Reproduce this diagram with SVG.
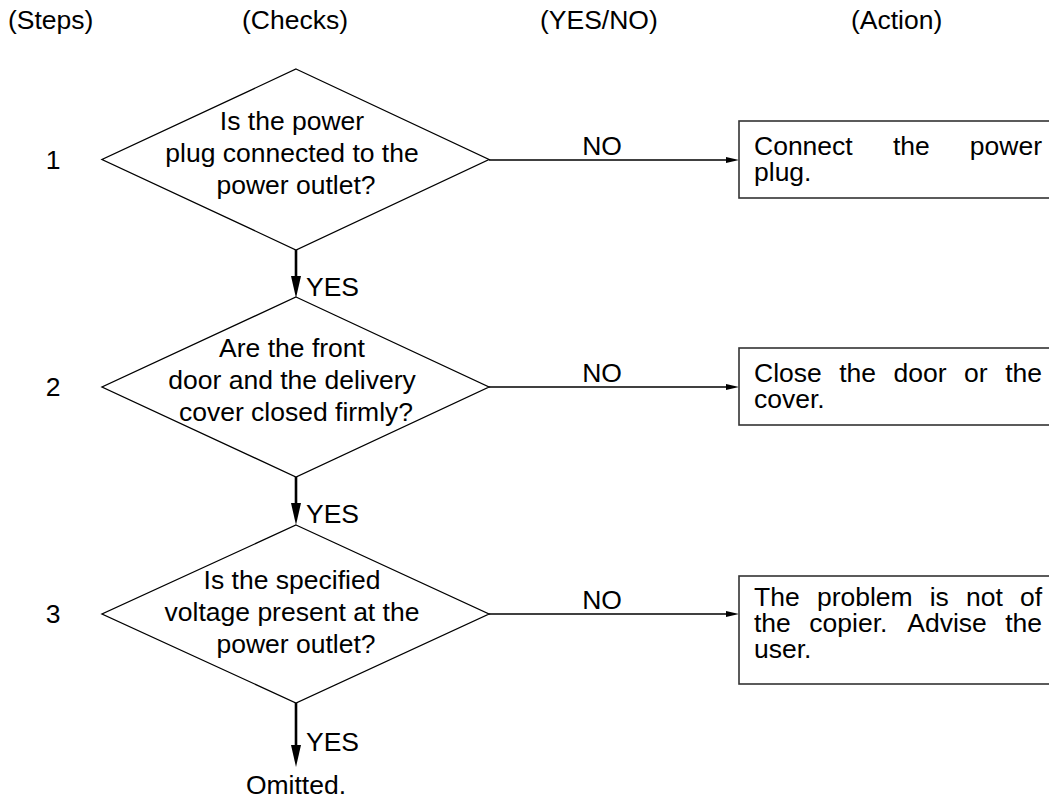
<svg xmlns="http://www.w3.org/2000/svg" width="1049" height="799" viewBox="0 0 1049 799">
<style>
text{font-family:"Liberation Sans",Arial,Helvetica,sans-serif;font-size:26.5px;fill:#000}
.c{text-anchor:middle}
.dia{fill:#fff;stroke:#000;stroke-width:1.3}
.box{fill:#fff;stroke:#333;stroke-width:1.6}
.yes{stroke:#000;stroke-width:2.6;fill:none}
.no{stroke:#000;stroke-width:1.4;fill:none}
</style>
<defs>
<marker id="ah" markerUnits="userSpaceOnUse" markerWidth="22" markerHeight="10" viewBox="0 0 22 10" refX="12" refY="5" orient="auto"><path d="M0,0 L22,5 L0,10 Z" fill="#000"/></marker>
<marker id="as" markerUnits="userSpaceOnUse" markerWidth="13" markerHeight="6" viewBox="0 0 13 6" refX="7" refY="3" orient="auto"><path d="M0,0 L13,3 L0,6 Z" fill="#000"/></marker>
</defs>
<rect width="1049" height="799" fill="#fff"/>
<g id="headers">
<text x="8" y="29">(Steps)</text>
<text x="242" y="29">(Checks)</text>
<text x="540" y="29">(YES/NO)</text>
<text x="851" y="29">(Action)</text>
</g>
<g id="steps">
<text class="c" x="53" y="169">1</text>
<text class="c" x="53" y="396">2</text>
<text class="c" x="53" y="623">3</text>
</g>
<g id="connectors">
<line class="yes" x1="296" y1="250" x2="296" y2="288" marker-end="url(#ah)"/>
<line class="yes" x1="296" y1="477" x2="296" y2="515" marker-end="url(#ah)"/>
<line class="yes" x1="296" y1="703" x2="296" y2="757" marker-end="url(#ah)"/>
<line class="no" x1="489" y1="160" x2="733" y2="160" marker-end="url(#as)"/>
<line class="no" x1="489" y1="387" x2="733" y2="387" marker-end="url(#as)"/>
<line class="no" x1="489" y1="614" x2="733" y2="614" marker-end="url(#as)"/>
<text x="306" y="296">YES</text>
<text x="306" y="523">YES</text>
<text x="306" y="751">YES</text>
<text class="c" x="602" y="155">NO</text>
<text class="c" x="602" y="382">NO</text>
<text class="c" x="602" y="609">NO</text>
</g>
<g id="check1">
<polygon class="dia" points="296,69 489,159.5 296,250 102,159.5"/>
<text class="c" x="292" y="130">Is the power</text>
<text class="c" x="292" y="162">plug connected to the</text>
<text class="c" x="296" y="194">power outlet?</text>
</g>
<g id="check2">
<polygon class="dia" points="296,297 489,387 296,477 102,387"/>
<text class="c" x="292" y="357">Are the front</text>
<text class="c" x="292" y="389">door and the delivery</text>
<text class="c" x="296" y="421">cover closed firmly?</text>
</g>
<g id="check3">
<polygon class="dia" points="296,525 489,614 296,703 102,614"/>
<text class="c" x="292" y="589">Is the specified</text>
<text class="c" x="292" y="621">voltage present at the</text>
<text class="c" x="296" y="653">power outlet?</text>
</g>
<g id="action1">
<rect class="box" x="739" y="121" width="330" height="77"/>
<text y="155"><tspan x="754">Connect</tspan><tspan x="892.9">the</tspan><tspan x="969.8">power</tspan></text>
<text x="754" y="181">plug.</text>
</g>
<g id="action2">
<rect class="box" x="739" y="348" width="330" height="77"/>
<text y="382"><tspan x="754">Close</tspan><tspan x="839.2">the</tspan><tspan x="893.5">door</tspan><tspan x="964">or</tspan><tspan x="1005.2">the</tspan></text>
<text x="754" y="408">cover.</text>
</g>
<g id="action3">
<rect class="box" x="739" y="576" width="330" height="108"/>
<text y="606"><tspan x="754">The</tspan><tspan x="816.9">problem</tspan><tspan x="929.7">is</tspan><tspan x="966">not</tspan><tspan x="1019.9">of</tspan></text>
<text y="632"><tspan x="754">the</tspan><tspan x="809.3">copier.</tspan><tspan x="907.3">Advise</tspan><tspan x="1005.2">the</tspan></text>
<text x="754" y="658">user.</text>
</g>
<g id="end">
<text class="c" x="296" y="794">Omitted.</text>
</g>
</svg>
